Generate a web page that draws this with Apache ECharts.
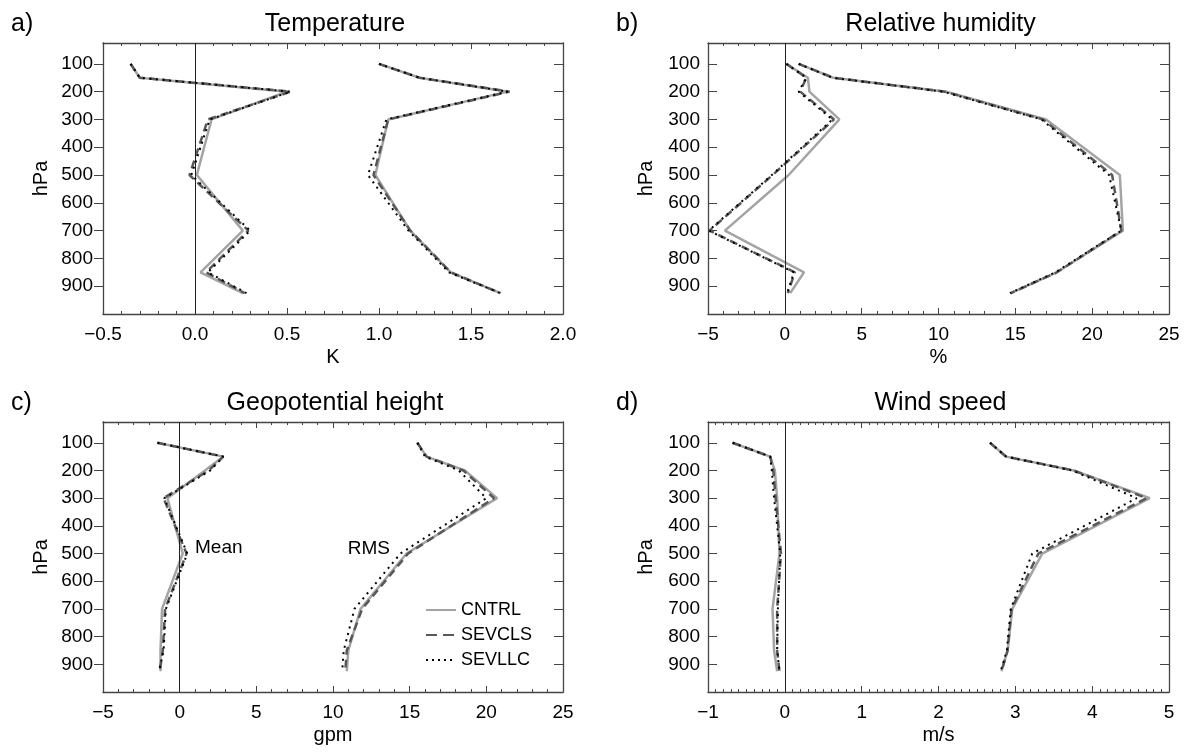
<!DOCTYPE html>
<html><head><meta charset="utf-8">
<script src="https://cdn.jsdelivr.net/npm/echarts@6/dist/echarts.min.js"></script>
<style>html,body{margin:0;padding:0;background:#fff}#c{width:1190px;height:752px}</style>
</head><body><div id="c"></div>
<script>
// ---------- data ----------
const levels = [100, 150, 200, 300, 500, 700, 850, 925];
const yTicks = [100, 200, 300, 400, 500, 600, 700, 800, 900];
const seriesNames = ['CNTRL', 'SEVCLS', 'SEVLLC'];

// a) Temperature (K)
const tMeanCNTRL  = [-0.35, -0.30, 0.50, 0.09, 0.01, 0.26, 0.03, 0.26];
const tMeanSEVCLS = [-0.35, -0.30, 0.52, 0.07, -0.03, 0.29, 0.06, 0.27];
const tMeanSEVLLC = [-0.35, -0.30, 0.52, 0.08, -0.02, 0.30, 0.07, 0.28];
const tRmsCNTRL   = [1.00, 1.22, 1.70, 1.05, 0.98, 1.17, 1.39, 1.66];
const tRmsSEVCLS  = [1.00, 1.22, 1.71, 1.05, 0.97, 1.17, 1.39, 1.66];
const tRmsSEVLLC  = [1.00, 1.22, 1.70, 1.04, 0.94, 1.16, 1.38, 1.66];

// b) Relative humidity (%)
const hMeanCNTRL  = [0.1, 1.5, 1.6, 3.55, 0.25, -3.9, 1.25, 0.35];
const hMeanSEVCLS = [0.1, 1.4, 1.0, 3.2, -0.8, -4.9, 0.65, 0.2];
const hMeanSEVLLC = [0.1, 1.4, 0.9, 3.1, -0.85, -4.95, 0.6, 0.15];
const hRmsCNTRL   = [0.9, 3.15, 10.5, 17.0, 21.8, 22.0, 17.7, 14.7];
const hRmsSEVCLS  = [0.9, 3.15, 10.4, 16.8, 21.3, 21.9, 17.7, 14.7];
const hRmsSEVLLC  = [0.9, 3.1, 10.3, 16.7, 21.1, 21.9, 17.6, 14.65];

// c) Geopotential height (gpm)
const gMeanCNTRL  = [-1.45, 2.85, 1.65, -0.8, 0.2, -1.15, -1.25, -1.25];
const gMeanSEVCLS = [-1.45, 2.85, 1.9, -1.05, 0.45, -0.95, -1.1, -1.3];
const gMeanSEVLLC = [-1.45, 2.85, 2.0, -1.0, 0.5, -0.9, -1.05, -1.35];
const gRmsCNTRL   = [15.5, 16.1, 18.6, 20.7, 14.8, 11.8, 11.0, 10.9];
const gRmsSEVCLS  = [15.5, 16.1, 18.5, 20.5, 14.9, 11.9, 10.9, 10.8];
const gRmsSEVLLC  = [15.5, 16.0, 18.2, 20.0, 14.4, 11.4, 10.7, 10.6];

// d) Wind speed (m/s)
const wMeanCNTRL  = [-0.68, -0.19, -0.13, -0.10, -0.07, -0.16, -0.14, -0.10];
const wMeanSEVCLS = [-0.68, -0.19, -0.15, -0.12, -0.05, -0.10, -0.10, -0.07];
const wMeanSEVLLC = [-0.68, -0.19, -0.17, -0.14, -0.06, -0.09, -0.10, -0.07];
const wRmsCNTRL   = [2.67, 2.88, 3.76, 4.75, 3.35, 2.96, 2.90, 2.82];
const wRmsSEVCLS  = [2.67, 2.88, 3.76, 4.71, 3.30, 2.95, 2.90, 2.82];
const wRmsSEVLLC  = [2.67, 2.88, 3.74, 4.58, 3.22, 2.94, 2.89, 2.81];

// ---------- panel configuration ----------
const panels = [
  {letter: 'a)', title: 'Temperature', unit: 'K', min: -0.5, max: 2.0, interval: 0.5, minorSplit: 5, dec: 1,
   mean: [tMeanCNTRL, tMeanSEVCLS, tMeanSEVLLC], rms: [tRmsCNTRL, tRmsSEVCLS, tRmsSEVLLC]},
  {letter: 'b)', title: 'Relative humidity', unit: '%', min: -5, max: 25, interval: 5, minorSplit: 5, dec: 0,
   mean: [hMeanCNTRL, hMeanSEVCLS, hMeanSEVLLC], rms: [hRmsCNTRL, hRmsSEVCLS, hRmsSEVLLC]},
  {letter: 'c)', title: 'Geopotential height', unit: 'gpm', min: -5, max: 25, interval: 5, minorSplit: 5, dec: 0,
   mean: [gMeanCNTRL, gMeanSEVCLS, gMeanSEVLLC], rms: [gRmsCNTRL, gRmsSEVCLS, gRmsSEVLLC]},
  {letter: 'd)', title: 'Wind speed', unit: 'm/s', min: -1, max: 5, interval: 1, minorSplit: 10, dec: 0,
   mean: [wMeanCNTRL, wMeanSEVCLS, wMeanSEVLLC], rms: [wRmsCNTRL, wRmsSEVCLS, wRmsSEVLLC]}
];

// ---------- layout & style ----------
const FONT = '"Liberation Sans", Arial, Helvetica, sans-serif';
const gridPos = [
  {left: 103, top: 43, width: 460, height: 271},
  {left: 708, top: 43, width: 461, height: 271},
  {left: 103, top: 422, width: 460, height: 270},
  {left: 708, top: 422, width: 461, height: 270}
];
const lineStyles = [
  {color: '#a4a4a4', width: 2.5, type: 'solid'},
  {color: '#585858', width: 2.5, type: [8, 5]},
  {color: '#000000', width: 2, type: [2, 4.6]}
];
const AX = '#444';

function fmt(v, dec) {
  const s = Math.abs(v).toFixed(dec);
  return (v < -1e-9 ? '\u2212' : '') + s;
}

const grid = [], xAxis = [], yAxis = [], series = [], graphic = [];

panels.forEach((p, i) => {
  grid.push(Object.assign({containLabel: false, show: false}, gridPos[i]));
  const xCommon = {
    type: 'value', gridIndex: i, min: p.min, max: p.max, interval: p.interval,
    axisLine: {show: true, onZero: false, lineStyle: {color: AX, width: 1.3}},
    axisTick: {show: true, inside: true, length: 6, lineStyle: {color: AX, width: 1}},
    minorTick: {show: true, splitNumber: p.minorSplit, length: 3, lineStyle: {color: AX, width: 1}},
    splitLine: {show: false}, minorSplitLine: {show: false}
  };
  xAxis.push(Object.assign({}, xCommon, {
    position: 'bottom',
    name: p.unit, nameLocation: 'middle', nameGap: 33,
    nameTextStyle: {fontSize: 20, color: '#000', fontFamily: FONT},
    axisLabel: {show: true, margin: 11, fontSize: 19, color: '#000', fontFamily: FONT,
                formatter: v => fmt(v, p.dec)}
  }));
  xAxis.push(Object.assign({}, xCommon, {position: 'top', axisLabel: {show: false}}));
  const yCommon = {
    type: 'value', gridIndex: i, min: 25, max: 1000, inverse: true,
    axisLine: {show: true, onZero: false, lineStyle: {color: AX, width: 1.3}},
    splitLine: {show: false}
  };
  yAxis.push(Object.assign({}, yCommon, {
    position: 'left',
    name: 'hPa', nameLocation: 'middle', nameGap: 52, nameRotate: 90,
    nameTextStyle: {fontSize: 20, color: '#000', fontFamily: FONT},
    axisTick: {show: true, inside: i % 2 === 1, length: 9, customValues: yTicks, lineStyle: {color: AX, width: 1}},
    axisLabel: {show: true, margin: i % 2 === 1 ? 8 : 10, fontSize: 19, color: '#000', fontFamily: FONT, customValues: yTicks}
  }));
  yAxis.push(Object.assign({}, yCommon, {
    position: 'right',
    axisTick: {show: true, inside: true, length: 9, customValues: yTicks, lineStyle: {color: AX, width: 1}},
    axisLabel: {show: false}
  }));

  ['mean', 'rms'].forEach((grp, gi) => {
    p[grp].forEach((vals, k) => {
      const s = {
        type: 'line', name: seriesNames[k],
        xAxisIndex: i * 2, yAxisIndex: i * 2,
        data: vals.map((v, j) => [v, levels[j]]),
        symbol: 'none', showSymbol: false, smooth: false,
        lineStyle: Object.assign({}, lineStyles[k]),
        itemStyle: {color: lineStyles[k].color},
        z: 3 + k, silent: true, animation: false
      };
      if (gi === 0 && k === 0) {
        s.markLine = {
          silent: true, symbol: ['none', 'none'], label: {show: false}, animation: false,
          lineStyle: {color: '#222', width: 1, type: 'solid'},
          emphasis: {disabled: true},
          data: [{xAxis: 0}]
        };
      }
      series.push(s);
    });
  });

  const g = gridPos[i];
  graphic.push({type: 'text', x: g.left - 92, y: g.top - 19,
    style: {text: p.letter, font: '25px ' + FONT, fill: '#000', textAlign: 'left', textVerticalAlign: 'middle'}});
  graphic.push({type: 'text', x: g.left + g.width / 2 + 2, y: g.top - 19,
    style: {text: p.title, font: '25px ' + FONT, fill: '#000', textAlign: 'center', textVerticalAlign: 'middle'}});
});

// annotations in panel c
graphic.push({type: 'text', x: 195, y: 548,
  style: {text: 'Mean', font: '19px ' + FONT, fill: '#000', textAlign: 'left', textVerticalAlign: 'middle'}});
graphic.push({type: 'text', x: 390, y: 549,
  style: {text: 'RMS', font: '19px ' + FONT, fill: '#000', textAlign: 'right', textVerticalAlign: 'middle'}});

const option = {
  backgroundColor: '#fff',
  animation: false,
  grid, xAxis, yAxis, series, graphic,
  legend: {
    data: [
      {name: 'CNTRL'},
      {name: 'SEVCLS', lineStyle: {type: [11, 6]}},
      {name: 'SEVLLC', lineStyle: {type: [2, 4]}}
    ],
    orient: 'vertical', left: 425, top: 601,
    itemWidth: 30, itemHeight: 14, itemGap: 7, padding: 0,
    selectedMode: false,
    itemStyle: {opacity: 0},
    textStyle: {fontSize: 18, color: '#000', fontFamily: FONT, padding: [0, 0, 0, 0]}
  }
};

const chart = echarts.init(document.getElementById('c'), null, {renderer: 'canvas'});
chart.setOption(option);
</script>
</body></html>
